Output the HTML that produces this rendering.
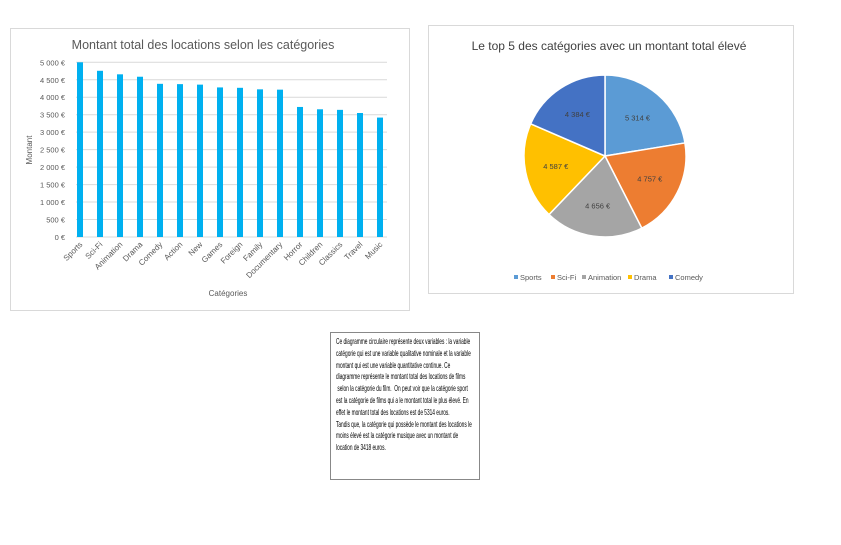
<!DOCTYPE html>
<html><head><meta charset="utf-8">
<style>
body{margin:0;width:841px;height:545px;background:#fff;position:relative;overflow:hidden;font-family:"Liberation Sans",sans-serif;}
.box{position:absolute;border:1px solid #d9d9d9;background:#fff;}
#note{position:absolute;left:330px;top:332px;width:150px;height:148px;border:1px solid #888;box-sizing:border-box;overflow:hidden;}
#noteText{position:absolute;left:5px;top:3px;white-space:pre;font-size:8.2px;line-height:11.8px;color:#000;transform:scaleX(0.585);transform-origin:0 0;}
</style></head><body>
<div class="box" style="left:10px;top:28px;width:398px;height:281px"></div>
<div class="box" style="left:428px;top:25px;width:364px;height:267px"></div>
<svg id="bar" width="841" height="545" style="position:absolute;left:0;top:0" font-family="Liberation Sans, sans-serif"></svg>
<div id="note"><div id="noteText">Ce diagramme circulaire représente deux variables : la variable
catégorie qui est une variable qualitative nominale et la variable
montant qui est une variable quantitative continue. Ce
diagramme représente le montant total des locations de films
 selon la catégorie du film.  On peut voir que la catégorie sport
est la catégorie de films qui a le montant total le plus élevé. En
effet le montant total des locations est de 5314 euros.
Tandis que, la catégorie qui possède le montant des locations le
moins élevé est la catégorie musique avec un montant de
location de 3418 euros.</div></div>
<script>
const categories=["Sports","Sci-Fi","Animation","Drama","Comedy","Action","New","Games","Foreign","Family","Documentary","Horror","Children","Classics","Travel","Music"];
const amounts=[5314,4757,4656,4587,4384,4375,4361,4281,4270,4226,4217,3722,3655,3639,3549,3418];
const yTicks=[0,500,1000,1500,2000,2500,3000,3500,4000,4500,5000];
const yTickLabels=["0 €","500 €","1 000 €","1 500 €","2 000 €","2 500 €","3 000 €","3 500 €","4 000 €","4 500 €","5 000 €"];
const pieLabels=["Sports","Sci-Fi","Animation","Drama","Comedy"];
const pieValues=[5314,4757,4656,4587,4384];
const pieValueLabels=["5 314 €","4 757 €","4 656 €","4 587 €","4 384 €"];
const pieColors=["#5b9bd5","#ed7d31","#a5a5a5","#ffc000","#4472c4"];
const NS="http://www.w3.org/2000/svg";
const svg=document.getElementById('bar');
function mk(t,a,txt){const e=document.createElementNS(NS,t);for(const k in a)e.setAttribute(k,a[k]);if(txt!=null)e.textContent=txt;svg.appendChild(e);return e;}
const x0=70,x1=390,yBase=237,yMax=5000,yTopPx=62.3;
const y=v=>yBase-(Math.min(v,yMax)/yMax)*(yBase-yTopPx);
const step=(x1-x0)/categories.length;
const xc=i=>x0+step*(i+0.5);
let e=mk('text',{x:203,y:49,'font-size':12.5,fill:'#595959','text-anchor':'middle'},'Montant total des locations selon les catégories');


yTicks.forEach((t,i)=>{
 let g=mk('line',{x1:x0+6,x2:x1-3,y1:y(t),y2:y(t),stroke:'#d9d9d9','stroke-width':1});
 
 
 let l=mk('text',{x:x0-5,y:y(t)+3,'font-size':7.5,fill:'#595959','text-anchor':'end'},yTickLabels[i]);
 
 
});
categories.forEach((c,i)=>{
 let b=mk('rect',{x:xc(i)-3,y:y(amounts[i]),width:6,height:yBase-y(amounts[i]),fill:'#00b0f0'});
 
 
 let l=mk('text',{x:xc(i)+3,y:yBase+8,'font-size':8,fill:'#595959','text-anchor':'end',transform:`rotate(-45 ${xc(i)+3} ${yBase+8})`},c);
 
 
});
e=mk('text',{x:32,y:150,'font-size':8,fill:'#595959','text-anchor':'middle',transform:'rotate(-90 32 150)'},'Montant');


e=mk('text',{x:228,y:296,'font-size':8,fill:'#595959','text-anchor':'middle'},'Catégories');


// pie
e=mk('text',{x:609,y:50,'font-size':12,fill:'#404040','text-anchor':'middle'},'Le top 5 des catégories avec un montant total élevé');


const cx=605,cy=156,r=81;
const tot=pieValues.reduce((a,b)=>a+b,0);
let ang=0;
pieValues.forEach((v,i)=>{
 const a0=ang,a1=ang+v/tot*2*Math.PI;ang=a1;
 const p=a=>[cx+r*Math.sin(a),cy-r*Math.cos(a)];
 const [sx,sy]=p(a0),[ex,ey]=p(a1);
 let s=mk('path',{d:`M${cx},${cy}L${sx},${sy}A${r},${r} 0 ${a1-a0>Math.PI?1:0} 1 ${ex},${ey}Z`,fill:pieColors[i],stroke:'#fff','stroke-width':1.5});
 
 
 const m=(a0+a1)/2;
 let l=mk('text',{x:cx+r*0.62*Math.sin(m),y:cy-r*0.62*Math.cos(m)+3,'font-size':7.5,fill:'#404040','text-anchor':'middle'},pieValueLabels[i]);
 
 
});
const legX=[514,551,582,628,669];
pieLabels.forEach((n,i)=>{
 let r2=mk('rect',{x:legX[i],y:275,width:4,height:4,fill:pieColors[i]});
 
 
 let t=mk('text',{x:legX[i]+6,y:280,'font-size':7.5,fill:'#595959'},n);
 
 
});
</script>
</body></html>
